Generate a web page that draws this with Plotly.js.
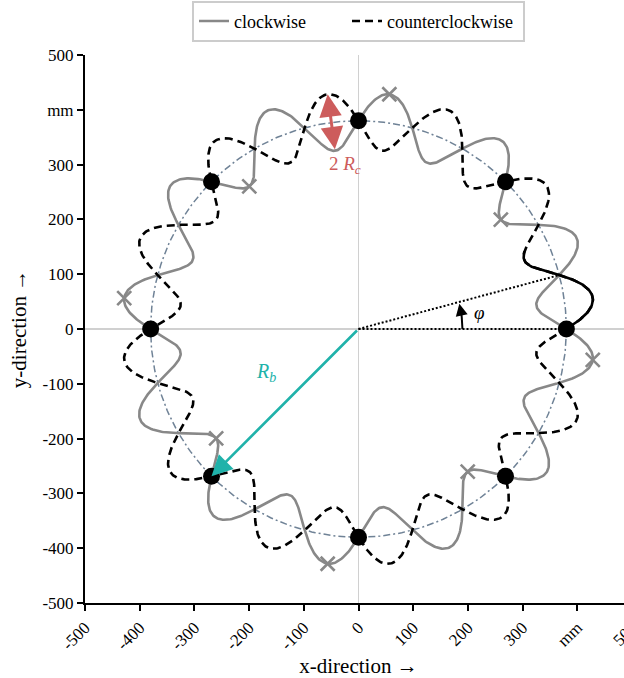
<!DOCTYPE html>
<html>
<head>
<meta charset="utf-8">
<script src="https://cdn.plot.ly/plotly-3.0.1.min.js"></script>
<style>
html, body { margin: 0; padding: 0; overflow: hidden; background: #fff; }
#chart { width: 672px; height: 678px; }
</style>
</head>
<body>
<div id="chart"></div>
<script>
// ---- values ----
const baseRadius = [380];          // R_b (mm)
const curveAmplitude = [52];       // R_c (mm)
const lobeCount = [12];            // waves around the circle
const seriesNames = ['clockwise', 'counterclockwise'];
const seriesSigns = [-1, 1];       // clockwise dips first, counterclockwise rises first
const dotAngles = [0, 45, 90, 135, 180, 225, 270, 315];
const crossAngles = [-7.5, 37.5, 82.5, 127.5, 172.5, 217.5, 262.5, 307.5];
const highlightRange = [0, 25];    // degrees of the black highlighted piece
const phiAngle = [15];             // angle of the dotted ray
const phiArcRadius = [190];
const arrowRbAngle = [225];
const arrowRcAngle = [97.5];
const xTickVals = [-500, -400, -300, -200, -100, 0, 100, 200, 300, 400, 500];
const xTickText = ['-500', '-400', '-300', '-200', '-100', '0', '100', '200', '300', 'mm', '500'];
const yTickVals = [-500, -400, -300, -200, -100, 0, 100, 200, 300, 400, 500];
const yTickText = ['-500', '-400', '-300', '-200', '-100', '0', '100', '200', '300', 'mm', '500'];

const Rb = baseRadius[0], Rc = curveAmplitude[0], n = lobeCount[0];
const rad = d => d * Math.PI / 180;

function curve(sign, a0, a1) {
  const xs = [], ys = [];
  for (let t = a0; t <= a1 + 1e-9; t += 0.25) {
    const r = Rb + sign * Rc * Math.sin(rad(n * t));
    xs.push(r * Math.cos(rad(t)));
    ys.push(r * Math.sin(rad(t)));
  }
  return {x: xs, y: ys};
}
function circle(r) {
  const xs = [], ys = [];
  for (let t = 0; t <= 360; t += 1) { xs.push(r * Math.cos(rad(t))); ys.push(r * Math.sin(rad(t))); }
  return {x: xs, y: ys};
}

const FONT = 'Liberation Serif, Times New Roman, serif';
const base = circle(Rb);
const cw = curve(seriesSigns[0], 0, 360);
const ccw = curve(seriesSigns[1], 0, 360);
const hi = curve(seriesSigns[1], highlightRange[0], highlightRange[1]);

const traces = [
  {x: base.x, y: base.y, mode: 'lines', showlegend: false, hoverinfo: 'skip',
   line: {color: '#6f8296', width: 1.5, dash: '7px,3px,2px,3px'}},
  {x: cw.x, y: cw.y, mode: 'lines', name: seriesNames[0] + '&nbsp;&nbsp;&nbsp;&nbsp;&nbsp;&nbsp;&nbsp;&nbsp;',
   line: {color: '#888888', width: 2.6}},
  {x: ccw.x, y: ccw.y, mode: 'lines', name: seriesNames[1] + '&nbsp;',
   line: {color: '#000000', width: 2.6, dash: '8px,5px'}},
  {x: hi.x, y: hi.y, mode: 'lines', showlegend: false,
   line: {color: '#000000', width: 2.6}},
  {x: [0, Rb], y: [0, 0], mode: 'lines', showlegend: false,
   line: {color: '#000000', width: 2, dash: '2px,2px'}},
  {x: [0, Rb * Math.cos(rad(phiAngle[0]))], y: [0, Rb * Math.sin(rad(phiAngle[0]))], mode: 'lines', showlegend: false,
   line: {color: '#000000', width: 2, dash: '2px,2px'}},
  {x: dotAngles.map(a => Rb * Math.cos(rad(a))), y: dotAngles.map(a => Rb * Math.sin(rad(a))),
   mode: 'markers', showlegend: false, marker: {color: '#000000', size: 17}},
  {x: crossAngles.map(a => (Rb - Rc * Math.sin(rad(n * a))) * Math.cos(rad(a))),
   y: crossAngles.map(a => (Rb - Rc * Math.sin(rad(n * a))) * Math.sin(rad(a))),
   mode: 'markers', showlegend: false,
   marker: {symbol: 'x-thin', size: 14, line: {color: '#888888', width: 2.6}}}
];

// φ arc
const arc = {x: [], y: []};
for (let t = 0; t <= phiAngle[0] - 5; t += 0.5) { arc.x.push(phiArcRadius[0] * Math.cos(rad(t))); arc.y.push(phiArcRadius[0] * Math.sin(rad(t))); }
traces.push({x: arc.x, y: arc.y, mode: 'lines', showlegend: false, line: {color: '#000', width: 2}});

const rbEnd = [Rb * Math.cos(rad(arrowRbAngle[0])), Rb * Math.sin(rad(arrowRbAngle[0]))];
const rcTop = [(Rb + Rc) * Math.cos(rad(arrowRcAngle[0])), (Rb + Rc) * Math.sin(rad(arrowRcAngle[0]))];
const rcBot = [(Rb - Rc) * Math.cos(rad(arrowRcAngle[0])), (Rb - Rc) * Math.sin(rad(arrowRcAngle[0]))];

const annotations = [
  {x: rbEnd[0], y: rbEnd[1], ax: 0, ay: 0, axref: 'x', ayref: 'y', xref: 'x', yref: 'y',
   text: '', showarrow: true, arrowhead: 2, arrowsize: 1.6, arrowwidth: 2.6, arrowcolor: '#20b2aa', standoff: 0},
  {x: rcTop[0], y: rcTop[1], ax: rcBot[0], ay: rcBot[1], axref: 'x', ayref: 'y', xref: 'x', yref: 'y',
   text: '', showarrow: true, arrowhead: 2, startarrowhead: 2, arrowside: 'end+start',
   arrowsize: 1.5, startarrowsize: 1.5, arrowwidth: 3, arrowcolor: '#cd5c5c', standoff: 0, startstandoff: 0},
  {x: phiArcRadius[0] * Math.cos(rad(phiAngle[0] - 1)), y: phiArcRadius[0] * Math.sin(rad(phiAngle[0] - 1)),
   ax: phiArcRadius[0] * Math.cos(rad(phiAngle[0] - 6)), ay: phiArcRadius[0] * Math.sin(rad(phiAngle[0] - 6)),
   axref: 'x', ayref: 'y', xref: 'x', yref: 'y', text: '', showarrow: true, arrowhead: 2, arrowsize: 1.2,
   arrowwidth: 2, arrowcolor: '#000', standoff: 0},
  {x: -24, y: 299, xref: 'x', yref: 'y', showarrow: false, text: '2 <i>R</i><sub><i>c</i></sub>',
   font: {family: FONT, size: 19, color: '#cd5c5c'}},
  {x: -170, y: -80, xref: 'x', yref: 'y', showarrow: false, text: '<i>R</i><sub><i>b</i></sub>',
   font: {family: FONT, size: 20, color: '#20b2aa'}},
  {x: 222, y: 30, xref: 'x', yref: 'y', showarrow: false, text: '<i>φ</i>',
   font: {family: FONT, size: 19, color: '#000'}}
];

const axisCommon = {
  range: [-500, 500], showgrid: false, zeroline: true, zerolinecolor: '#d0d0d0', zerolinewidth: 1.5,
  showline: true, linecolor: '#000', linewidth: 2, ticks: 'outside', ticklen: 6, tickwidth: 2, tickcolor: '#000',
  tickfont: {family: FONT, size: 17, color: '#000'}, fixedrange: true
};

const layout = {
  width: 672, height: 678,
  margin: {l: 85, r: 40, t: 55, b: 75, autoexpand: false},
  paper_bgcolor: '#fff', plot_bgcolor: '#fff',
  showlegend: true,
  legend: {orientation: 'h', x: 0.5, xanchor: 'center', y: 1.099, yanchor: 'top',
           bordercolor: '#cccccc', borderwidth: 2, bgcolor: '#fff',
           font: {family: FONT, size: 18, color: '#000'}},
  xaxis: Object.assign({}, axisCommon, {tickvals: xTickVals, ticktext: xTickText, tickangle: -45,
          title: {text: 'x-direction →', font: {family: FONT, size: 21, color: '#000'}, standoff: 6}}),
  yaxis: Object.assign({}, axisCommon, {tickvals: yTickVals, ticktext: yTickText,
          title: {text: 'y-direction →', font: {family: FONT, size: 21, color: '#000'}, standoff: 10}}),
  annotations: annotations,
  hovermode: false
};

Plotly.newPlot('chart', traces, layout, {staticPlot: true, displayModeBar: false});
</script>
</body>
</html>
